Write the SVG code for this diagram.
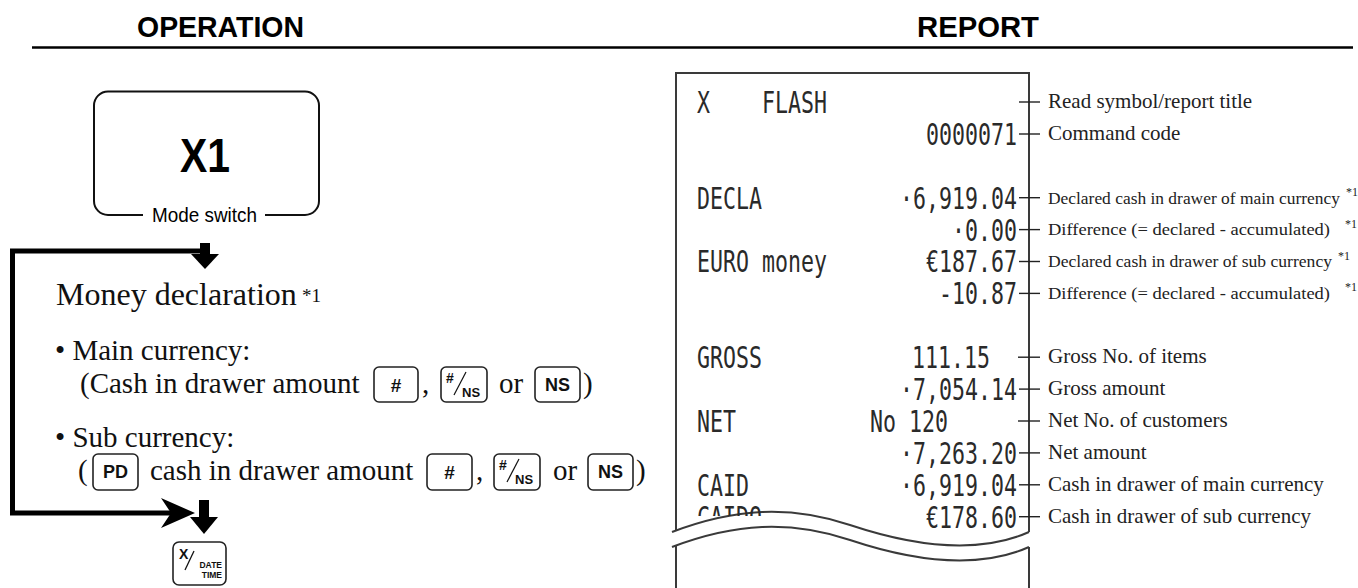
<svg xmlns="http://www.w3.org/2000/svg" width="1358" height="588" viewBox="0 0 1358 588">
<style>
.hdr{font-family:"Liberation Sans",Arial,sans-serif;font-weight:bold;font-size:30px;text-anchor:middle;fill:#000}
.body{font-family:"Liberation Serif","Times New Roman",serif;font-size:29px;fill:#111}
.lbl{font-family:"Liberation Serif","Times New Roman",serif;font-size:21px;fill:#222}
.lbs{font-family:"Liberation Serif","Times New Roman",serif;font-size:17.5px;fill:#222}
.sup{font-family:"Liberation Serif","Times New Roman",serif;font-size:12px;fill:#222}
.dm{font-family:"DejaVu Sans Mono",monospace;font-size:30px;fill:#2a2a2a}
.end{text-anchor:end}
.key{fill:#fff;stroke:#222;stroke-width:1.6}
.kt{font-family:"Liberation Sans",Arial,sans-serif;font-weight:bold;font-size:18px;text-anchor:middle;fill:#111}
.ks{font-family:"Liberation Sans",Arial,sans-serif;font-weight:bold;fill:#111}
.tick{stroke:#222;stroke-width:1.4}
.edge{fill:none;stroke:#3a3a3a;stroke-width:2}
.flow{fill:none;stroke:#000;stroke-width:5}
</style>
<defs>
<clipPath id="cut"><rect x="944" y="480" width="278" height="36"/></clipPath>
</defs>

<g id="headers">
<text class="hdr" x="220.5" y="37" textLength="167" lengthAdjust="spacingAndGlyphs">OPERATION</text>
<text class="hdr" x="978" y="37" textLength="122" lengthAdjust="spacingAndGlyphs">REPORT</text>
<line x1="32" y1="47.5" x2="1353" y2="47.5" stroke="#000" stroke-width="2.5"/>
</g>

<g id="mode-switch">
<path d="M143,215 H108 A14,14 0 0 1 94,201 V105.5 A14,14 0 0 1 108,91.5 H305 A14,14 0 0 1 319,105.5 V201 A14,14 0 0 1 305,215 H265" fill="none" stroke="#111" stroke-width="2"/>
<text x="205" y="172" font-family="Liberation Sans,Arial,sans-serif" font-weight="bold" font-size="48" text-anchor="middle" textLength="50" lengthAdjust="spacingAndGlyphs">X1</text>
<text x="204.5" y="222" font-family="Liberation Sans,Arial,sans-serif" font-size="20" text-anchor="middle" textLength="105" lengthAdjust="spacingAndGlyphs">Mode switch</text>
</g>

<g id="connectors">
<path class="flow" d="M205,251 H12.5 V513 H172"/>
<polygon points="195,513 161,498 171,513 161,528" fill="#000"/>
<rect x="200" y="243" width="10" height="12" fill="#000"/>
<polygon points="191,254 219,254 205,269" fill="#000"/>
<rect x="199" y="500" width="10" height="18" fill="#000"/>
<polygon points="190,517 218,517 204,534" fill="#000"/>
</g>

<g id="money-declaration">
<text class="body" x="56" y="305" style="font-size:32px">Money declaration</text>
<text class="body" x="302" y="302" style="font-size:19px">*1</text>
</g>

<g id="main-currency">
<text class="body" x="55" y="360">• Main currency:</text>
<text class="body" x="80" y="393">(Cash in drawer amount</text>
<rect class="key" x="374" y="367" width="44" height="35" rx="5"/>
<text class="kt" x="396" y="392" style="font-size:19px">#</text>
<text class="body" x="422" y="393">,</text>
<rect class="key" x="441" y="367" width="46" height="35" rx="5"/>
<text class="ks" x="446" y="383" font-size="14">#</text>
<line x1="466" y1="372" x2="454" y2="395" stroke="#111" stroke-width="1.2"/>
<text class="ks" x="462" y="397" font-size="13">NS</text>
<text class="body" x="499" y="393">or</text>
<rect class="key" x="535" y="367" width="45" height="35" rx="5"/>
<text class="kt" x="557.5" y="391">NS</text>
<text class="body" x="583" y="393">)</text>
</g>

<g id="sub-currency">
<text class="body" x="55" y="447">• Sub currency:</text>
<text class="body" x="78" y="480">(</text>
<rect class="key" x="93" y="454" width="45" height="36" rx="5"/>
<text class="kt" x="115.5" y="478">PD</text>
<text class="body" x="150" y="480">cash in drawer amount</text>
<rect class="key" x="427" y="454" width="45" height="36" rx="5"/>
<text class="kt" x="449.5" y="479" style="font-size:19px">#</text>
<text class="body" x="476" y="480">,</text>
<rect class="key" x="494" y="454" width="46" height="36" rx="5"/>
<text class="ks" x="499" y="470" font-size="14">#</text>
<line x1="519" y1="459" x2="507" y2="482" stroke="#111" stroke-width="1.2"/>
<text class="ks" x="515" y="484" font-size="13">NS</text>
<text class="body" x="553" y="480">or</text>
<rect class="key" x="588" y="454" width="45" height="36" rx="5"/>
<text class="kt" x="610.5" y="478">NS</text>
<text class="body" x="636" y="480">)</text>
</g>

<g id="date-time-key">
<rect class="key" x="173" y="542" width="53" height="43" rx="6"/>
<text class="ks" x="179" y="559" font-size="14">X</text>
<line x1="194" y1="551" x2="185" y2="570" stroke="#111" stroke-width="1.3"/>
<text class="ks" x="222" y="568" font-size="8.5" text-anchor="end">DATE</text>
<text class="ks" x="222" y="578" font-size="8.5" text-anchor="end">TIME</text>
</g>

<g id="receipt">
<path class="edge" d="M676,530.5 V73 H1029 V532"/>
<path class="edge" d="M676,546 V588"/>
<path class="edge" d="M1029,547 V588"/>
<path class="edge" d="M672,532 C735,508 790,505 850,525 S975,556 1029,532"/>
<path class="edge" d="M672,547 C735,523 790,520 850,540 S975,571 1029,547"/>
<g transform="scale(0.72 1)">
<text class="dm" x="968.06" y="113">X</text>
<text class="dm" x="1058.33" y="113">FLASH</text>
<text class="dm end" x="1412.5" y="145">0000071</text>
<text class="dm" x="968.06" y="208.7">DECLA</text>
<text class="dm end" x="1412.5" y="208.7">·6,919.04</text>
<text class="dm end" x="1412.5" y="240.6">·0.00</text>
<text class="dm" x="968.06" y="272.5">EURO money</text>
<text class="dm end" x="1412.5" y="272.5">€187.67</text>
<text class="dm end" x="1412.5" y="304.4">-10.87</text>
<text class="dm" x="968.06" y="368.2">GROSS</text>
<text class="dm end" x="1375" y="368.2">111.15</text>
<text class="dm end" x="1412.5" y="400.1">·7,054.14</text>
<text class="dm" x="968.06" y="432">NET</text>
<text class="dm end" x="1316.67" y="432">No 120</text>
<text class="dm end" x="1412.5" y="463.9">·7,263.20</text>
<text class="dm" x="968.06" y="495.8">CAID</text>
<text class="dm end" x="1412.5" y="495.8">·6,919.04</text>
<text class="dm" x="968.06" y="527.7" clip-path="url(#cut)">CAIDO</text>
<text class="dm end" x="1412.5" y="527.7">€178.60</text>
</g>
</g>

<g id="report-labels">
<line class="tick" x1="1019" y1="102" x2="1040" y2="102"/>
<line class="tick" x1="1019" y1="134" x2="1040" y2="134"/>
<line class="tick" x1="1019" y1="197.7" x2="1040" y2="197.7"/>
<line class="tick" x1="1019" y1="229.6" x2="1040" y2="229.6"/>
<line class="tick" x1="1019" y1="261.5" x2="1040" y2="261.5"/>
<line class="tick" x1="1019" y1="293.4" x2="1040" y2="293.4"/>
<line class="tick" x1="1018" y1="357.2" x2="1040" y2="357.2"/>
<line class="tick" x1="1019" y1="389.1" x2="1040" y2="389.1"/>
<line class="tick" x1="1018" y1="421" x2="1040" y2="421"/>
<line class="tick" x1="1019" y1="452.9" x2="1040" y2="452.9"/>
<line class="tick" x1="1019" y1="484.8" x2="1040" y2="484.8"/>
<line class="tick" x1="1019" y1="516.7" x2="1040" y2="516.7"/>

<text class="lbl" x="1048" y="108">Read symbol/report title</text>
<text class="lbl" x="1048" y="140">Command code</text>
<text class="lbs" x="1048" y="203.5" textLength="292" lengthAdjust="spacingAndGlyphs">Declared cash in drawer of main currency</text>
<text class="sup" x="1346" y="195.7">*1</text>
<text class="lbs" x="1048" y="235.4" textLength="282" lengthAdjust="spacingAndGlyphs">Difference (= declared - accumulated)</text>
<text class="sup" x="1345" y="227.6">*1</text>
<text class="lbs" x="1048" y="267.3" textLength="284" lengthAdjust="spacingAndGlyphs">Declared cash in drawer of sub currency</text>
<text class="sup" x="1338" y="259.5">*1</text>
<text class="lbs" x="1048" y="299.2" textLength="282" lengthAdjust="spacingAndGlyphs">Difference (= declared - accumulated)</text>
<text class="sup" x="1345" y="291.4">*1</text>
<text class="lbl" x="1048" y="363.2">Gross No. of items</text>
<text class="lbl" x="1048" y="395.1">Gross amount</text>
<text class="lbl" x="1048" y="427">Net No. of customers</text>
<text class="lbl" x="1048" y="458.9">Net amount</text>
<text class="lbl" x="1048" y="490.8">Cash in drawer of main currency</text>
<text class="lbl" x="1048" y="522.7">Cash in drawer of sub currency</text>
</g>
</svg>
